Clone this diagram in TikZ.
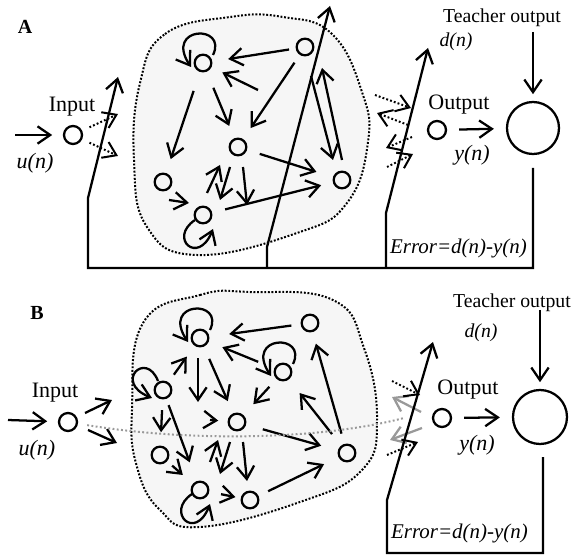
\documentclass[tikz,border=0pt]{standalone}
\usepackage{fontspec}
\setmainfont{Liberation Serif}
\usetikzlibrary{arrows.meta}
\begin{document}
\begin{tikzpicture}[x=0.75pt,y=-0.75pt,line width=1.7pt,line cap=butt,
  arr/.style={-{Straight Barb[length=9.5pt,width=13pt]}},
  res/.style={circle,draw,fill=gray!8,minimum size=12.5pt,inner sep=0pt},
  io/.style={circle,draw,fill=white,minimum size=13.5pt,inner sep=0pt},
  bigc/.style={circle,draw,fill=white,minimum size=39pt,inner sep=0pt},
  lbl/.style={font=\fontsize{16.5}{18}\selectfont,inner sep=0pt},
  ital/.style={font=\fontsize{16.5}{18}\selectfont\itshape,inner sep=0pt},
  small/.style={font=\fontsize{14.8}{17}\selectfont,inner sep=0pt},
  smallit/.style={font=\fontsize{14.8}{17}\selectfont\itshape,inner sep=0pt},
  errt/.style={font=\fontsize{15.7}{18}\selectfont\itshape,inner sep=0pt},
  panel/.style={font=\fontsize{15}{17}\selectfont\bfseries,inner sep=0pt},
  blob/.style={dash pattern=on 1.4pt off 1.3pt,line width=1.5pt,fill=gray!7},
  dot/.style={dash pattern=on 1.4pt off 1.6pt,line width=1.5pt},
  gdot/.style={dash pattern=on 1.4pt off 1.8pt,line width=1.5pt,draw=gray!80},
  garr/.style={arr,draw=gray!80}
]
\useasboundingbox (0,0) rectangle (586,556);

% ================= Panel A =================
\node[panel] (labA) at (25,27) {A};
\draw[blob] plot[smooth cycle,tension=0.75] coordinates {(140,83) (165,34) (230,17) (283,17) (332,34) (362,92) (368,142) (347,203) (297,233) (197,255) (147,227) (134,160)};

\node[res] (a1) at (203,63) {};
\node[res] (a2) at (305,47) {};
\node[res] (a3) at (238,147) {};
\node[res] (a4) at (163,182) {};
\node[res] (a5) at (203,215) {};
\node[res] (a6) at (342,180) {};

\draw[arr] (213,55) .. controls (228,24) and (164,26) .. (191,67);
\draw[arr] (195,220) .. controls (168,238) and (198,266) .. (213,229);

\draw[arr,shorten <=5pt,shorten >=12pt] (a2) -- (a1);
\coordinate (af1) at (258,90);
\draw[arr,shorten >=9pt] (af1) -- (a1);
\draw[arr,shorten <=15pt,shorten >=11pt] (a1) -- (a4);
\draw[arr,shorten <=13pt,shorten >=10pt] (a1) -- (a3);
\draw[arr,shorten <=7pt,shorten >=10pt] (a2) -- (a3);
\draw[arr,shorten <=10pt,shorten >=13pt] (a3) -- (a6);
\draw[arr,shorten <=10pt,shorten >=9pt] (a5) -- (a6);
\coordinate (a4o) at (169,200); \coordinate (a5i) at (189,203);
\draw[arr] (a4o) -- (a5i);
\coordinate (t1s) at (207,193); \coordinate (t1e) at (220,165);
\coordinate (t2s) at (230,167); \coordinate (t2e) at (220,200);
\coordinate (t3s) at (243,167); \coordinate (t3e) at (247,205);
\draw[arr] (t1s) -- (t1e);
\draw[arr] (t2s) -- (t2e);
\draw[arr] (t3s) -- (t3e);
\coordinate (p1s) at (311,76); \coordinate (p1e) at (333,160);
\coordinate (p2s) at (342,160); \coordinate (p2e) at (322,68);
\draw[arr] (p1s) -- (p1e);
\draw[arr] (p2s) -- (p2e);

% input A
\node[io] (ia) at (73,135) {};
\coordinate (ina) at (15,135);
\draw[arr,shorten >=8pt] (ina) -- (ia);
\node[lbl] (inlA) at (72,107) {Input};
\node[ital] (unA) at (35,163) {u(n)};
\coordinate (ia1) at (118,114); \coordinate (ia2) at (118,156);
\draw[dot,arr,shorten <=6pt] (ia) -- (ia1);
\draw[dot,arr,shorten <=6pt] (ia) -- (ia2);

% output A
\node[io] (oa) at (437,130) {};
\node[bigc] (ba) at (533,128) {};
\draw[arr,shorten <=9pt,shorten >=9pt] (oa) -- (ba);
\node[lbl] (outlA) at (459,105) {Output};
\node[ital] (ynA) at (472,155) {y(n)};
\node[small] (teachA) at (502,18) {Teacher output};
\node[smallit] (dnA) at (456,42) {d(n)};
\coordinate (ta) at (533,32);
\draw[arr,shorten >=5pt] (ta) -- (ba);
\node[errt,anchor=west] (errA) at (389,248) {Error=d(n)-y(n)};

\coordinate (od1s) at (375,95);  \coordinate (od1e) at (411,108);
\coordinate (od2s) at (408,125); \coordinate (od2e) at (377,113);
\coordinate (od3s) at (412,137); \coordinate (od3e) at (386,148);
\coordinate (od4s) at (387,167); \coordinate (od4e) at (413,154);
\draw[dot,arr] (od1s) -- (od1e);
\draw[dot,arr] (od2s) -- (od2e);
\draw[dot,arr] (od3s) -- (od3e);
\draw[dot,arr] (od4s) -- (od4e);

% frame A
\coordinate (fa1) at (533,168); \coordinate (fa2) at (533,268);
\coordinate (fa3) at (88,268);  \coordinate (fa4) at (88,198);
\coordinate (fa5) at (118,77);
\draw[arr] (fa1) -- (fa2) -- (fa3) -- (fa4) -- (fa5);
\coordinate (fr1) at (267,268); \coordinate (fr2) at (267,247); \coordinate (fr3) at (330,6);
\draw[arr] (fr1) -- (fr2) -- (fr3);
\coordinate (fo1) at (386,268); \coordinate (fo2) at (386,213); \coordinate (fo3) at (428,48);
\draw[arr] (fo1) -- (fo2) -- (fo3);

% ================= Panel B =================
\node[panel] (labB) at (37,313) {B};
\draw[blob] plot[smooth cycle,tension=0.75] coordinates {(143,323) (200,295) (250,292) (333,300) (364,348) (377,420) (362,470) (300,502) (200,527) (160,510) (137,467) (132,410)};

\node[res] (b1) at (200,338) {};
\node[res] (b2) at (310,323) {};
\node[res] (b3) at (283,372) {};
\node[res] (b4) at (163,390) {};
\node[res] (b5) at (237,422) {};
\node[res] (b6) at (160,455) {};
\node[res] (b7) at (200,490) {};
\node[res] (b8) at (250,500) {};
\node[res] (b9) at (347,453) {};

% self loops
\draw[arr] (210,330) .. controls (225,299) and (161,301) .. (188,342);
\draw[arr] (293,364) .. controls (308,333) and (244,335) .. (271,376);
\draw[arr] (158,381) .. controls (146,350) and (113,382) .. (152,398);
\draw[arr] (192,494) .. controls (165,512) and (195,542) .. (210,504);

\draw[arr,shorten <=7pt,shorten >=15pt] (b2) -- (b1);
\draw[arr,shorten <=13pt,shorten >=11pt] (b3) -- (b1);
\draw[arr,shorten <=7pt,shorten >=10pt] (b4) -- (b1);
\coordinate (bd1s) at (198,358); \coordinate (bd1e) at (198,402);
\draw[arr] (bd1s) -- (bd1e);
\draw[arr,shorten <=10pt,shorten >=10pt] (b1) -- (b5);
\draw[arr,shorten <=8pt,shorten >=11pt] (b3) -- (b5);
\coordinate (b5in) at (210,420);
\draw[arr,shorten >=7pt] (b5in) -- (b5);
\draw[arr,shorten <=8pt,shorten >=10pt] (b4) -- (b6);
\draw[arr,shorten <=5pt,shorten >=15pt] (b4) -- (b7);
\draw[arr,shorten <=5pt,shorten >=10pt] (b6) -- (b7);
\coordinate (u1s) at (210,462); \coordinate (u1e) at (218,440);
\coordinate (u2s) at (230,442); \coordinate (u2e) at (220,474);
\coordinate (u3s) at (243,442); \coordinate (u3e) at (247,481);
\draw[arr] (u1s) -- (u1e);
\draw[arr] (u2s) -- (u2e);
\draw[arr] (u3s) -- (u3e);
\draw[arr,shorten <=9pt,shorten >=4pt] (b7) -- (b8);
\draw[arr,shorten <=8pt,shorten >=12pt] (b8) -- (b9);
\draw[arr,shorten <=13pt,shorten >=13pt] (b5) -- (b9);
\draw[arr,shorten <=11pt,shorten >=13pt] (b9) -- (b3);
\draw[arr,shorten <=8pt,shorten >=9pt] (b9) -- (b2);

% input B
\node[io] (ib) at (68,422) {};
\coordinate (inb) at (8,420);
\draw[arr,shorten >=8pt] (inb) -- (ib);
\node[lbl] (inlB) at (55,393) {Input};
\node[ital] (unB) at (37,450) {u(n)};
\coordinate (ib1s) at (85,413); \coordinate (ib1e) at (112,400);
\coordinate (ib2s) at (88,430); \coordinate (ib2e) at (117,443);
\draw[arr] (ib1s) -- (ib1e);
\draw[arr] (ib2s) -- (ib2e);

% output B
\node[io] (ob) at (442,418) {};
\node[bigc,minimum size=40.5pt] (bb) at (540,417) {};
\draw[arr,shorten <=9pt,shorten >=9pt] (ob) -- (bb);
\node[lbl] (outlB) at (468,390) {Output};
\node[ital] (ynB) at (477,445) {y(n)};
\node[small] (teachB) at (512,303) {Teacher output};
\node[smallit] (dnB) at (481,333) {d(n)};
\coordinate (tb) at (540,310);
\draw[arr,shorten >=5pt] (tb) -- (bb);
\node[errt,anchor=west] (errB) at (390,533) {Error=d(n)-y(n)};

% gray direct input-output path
\coordinate (gend) at (404,418);
\draw[gdot,shorten <=7pt] (ib) .. controls (190,442) and (320,440) .. (gend);
\coordinate (g1s) at (421,412); \coordinate (g1e) at (392,397);
\coordinate (g2s) at (422,428); \coordinate (g2e) at (390,440);
\draw[garr] (g1s) -- (g1e);
\draw[garr] (g2s) -- (g2e);

\coordinate (bo1s) at (392,381); \coordinate (bo1e) at (420,395);
\coordinate (bo2s) at (387,455); \coordinate (bo2e) at (418,442);
\draw[dot,arr] (bo1s) -- (bo1e);
\draw[dot,arr] (bo2s) -- (bo2e);

% frame B
\coordinate (fb1) at (543,457); \coordinate (fb2) at (543,553);
\coordinate (fb3) at (387,553); \coordinate (fb4) at (387,500);
\coordinate (fb5) at (433,342);
\draw[arr] (fb1) -- (fb2) -- (fb3) -- (fb4) -- (fb5);
\end{tikzpicture}
\end{document}
